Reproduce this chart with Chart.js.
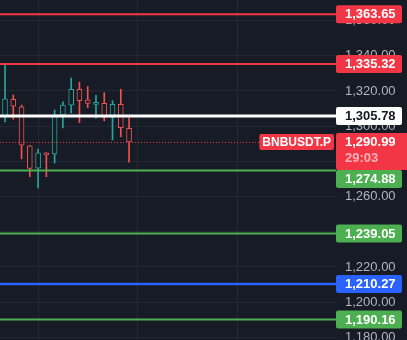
<!DOCTYPE html>
<html>
<head>
<meta charset="utf-8">
<script src="https://cdn.jsdelivr.net/npm/chart.js@4/dist/chart.umd.min.js"></script>
<style>
    html, body { margin: 0; padding: 0; background: #171b26; overflow: hidden; }
    canvas { display: block; }
</style>
</head>
<body>
<canvas id="bnbChart" width="407" height="340"></canvas>
<script>
//
//
// Data
var opens  = [1305.2, 1315.3, 1311.0, 1288.9, 1276.2, 1284.8, 1284.2, 1306.4, 1312.0, 1321.0, 1315.0, 1312.4, 1313.0, 1305.0, 1312.4, 1298.8];
var highs  = [1334.8, 1317.7, 1312.0, 1289.0, 1287.0, 1285.0, 1309.2, 1313.8, 1327.4, 1325.0, 1322.5, 1317.6, 1319.0, 1314.5, 1321.0, 1304.8];
var lows   = [1302.4, 1304.0, 1281.4, 1271.3, 1264.9, 1271.3, 1279.0, 1299.0, 1307.5, 1302.0, 1310.5, 1304.5, 1303.0, 1292.2, 1294.0, 1279.5];
var closes = [1315.5, 1311.4, 1289.2, 1276.0, 1284.8, 1283.6, 1306.4, 1312.0, 1321.0, 1314.5, 1313.0, 1312.7, 1305.0, 1312.4, 1299.2, 1290.99];

var levelPrices = [1363.65, 1335.32, 1305.78, 1274.88, 1239.05, 1210.27, 1190.16];
var levelColors = ['#f23645', '#f23645', '#ffffff', '#4caf50', '#4caf50', '#2962ff', '#4caf50'];
var levelWidths = [2, 2, 3, 2, 2, 2.5, 2];

var symbolName = 'BNBUSDT.P';
var countdown = '29:03';
var lastPrice = closes[closes.length - 1];

var yTickStep = 20;
var xGridIdx = [4, 16, 28];

//
//
// Styles
var BG = '#171b26';
var GRID = '#242833';
var UP = '#26a69a';
var DOWN = '#ef5350';
var RED = '#f23645';
var FONT = '"Liberation Sans", Arial, sans-serif';

function fmt(v) {
    return v.toLocaleString('en-US', { minimumFractionDigits: 2, maximumFractionDigits: 2 });
}

var wickData = [];
var bodyData = [];
var candleColors = [];
for (var i = 0; i < opens.length; i++) {
    wickData.push({ x: i, y: [lows[i], highs[i]] });
    bodyData.push({ x: i, y: [opens[i], closes[i]] });
    candleColors.push(closes[i] >= opens[i] ? UP : DOWN);
}

//
// Background + vertical grid
var backgroundPlugin = {
    id: 'bg',
    beforeDraw: function(chart) {
        var c = chart.ctx;
        c.save();
        c.fillStyle = BG;
        c.fillRect(0, 0, chart.width, chart.height);
        c.restore();
    },
    beforeDatasetsDraw: function(chart) {
        var c = chart.ctx;
        var area = chart.chartArea;
        var x = chart.scales.x;
        c.save();
        c.strokeStyle = GRID;
        c.lineWidth = 1;
        xGridIdx.forEach(function(v) {
            var px = Math.round(x.getPixelForValue(v)) + 0.5;
            c.beginPath();
            c.moveTo(px, area.top);
            c.lineTo(px, area.bottom);
            c.stroke();
        });
        c.restore();
    }
};

//
// Horizontal levels + price line
var levelsPlugin = {
    id: 'levels',
    afterDatasetsDraw: function(chart) {
        var c = chart.ctx;
        var area = chart.chartArea;
        var y = chart.scales.y;
        c.save();
        // last price dotted line
        var py = Math.round(y.getPixelForValue(lastPrice)) + 0.5;
        c.strokeStyle = RED;
        c.lineWidth = 1;
        c.setLineDash([1, 2]);
        c.beginPath();
        c.moveTo(area.left, py);
        c.lineTo(area.right, py);
        c.stroke();
        c.setLineDash([]);
        levelPrices.forEach(function(p, k) {
            var ly = y.getPixelForValue(p);
            c.strokeStyle = levelColors[k];
            c.lineWidth = levelWidths[k];
            c.beginPath();
            c.moveTo(area.left, ly);
            c.lineTo(area.right, ly);
            c.stroke();
        });
        c.restore();
    },
    afterDraw: function(chart) {
        var c = chart.ctx;
        var area = chart.chartArea;
        var y = chart.scales.y;
        var boxH = 18;
        var boxW = 66;
        var textX = area.right + 9;
        c.save();
        c.textBaseline = 'middle';
        c.textAlign = 'left';

        // current price box
        var py = y.getPixelForValue(lastPrice);
        var curTop = py - 9;
        var curBottom = curTop + 37;

        // symbol tag
        c.font = 'bold 12px ' + FONT;
        var sw = c.measureText(symbolName).width;
        c.fillStyle = RED;
        c.beginPath();
        c.roundRect(area.right - 2 - sw - 6, py - 8, sw + 6, 16, 2);
        c.fill();
        c.fillStyle = '#ffffff';
        c.fillText(symbolName, area.right - 2 - sw - 3, py + 0.5);

        // level labels
        c.font = 'bold 13px ' + FONT;
        levelPrices.forEach(function(p, k) {
            var ly = y.getPixelForValue(p);
            var top = ly - boxH / 2;
            if (top < curBottom && top + boxH > curTop) {
                top = p < lastPrice ? curBottom : curTop - boxH;
            }
            c.fillStyle = levelColors[k];
            c.beginPath();
            c.roundRect(area.right, top, boxW, boxH, 2);
            c.fill();
            c.fillStyle = levelColors[k] === '#ffffff' ? '#131722' : '#ffffff';
            c.fillText(fmt(p), textX, top + boxH / 2 + 0.5);
        });

        c.fillStyle = RED;
        c.beginPath();
        c.roundRect(area.right, curTop, chart.width - area.right + 2, curBottom - curTop, 2);
        c.fill();
        c.fillStyle = '#ffffff';
        c.fillText(fmt(lastPrice), textX, py + 0.5);
        c.fillStyle = 'rgba(255,255,255,0.62)';
        c.fillText(countdown, textX, py + 16);
        c.restore();
    }
};

//
// Draw Chart
var ctx = document.getElementById('bnbChart').getContext('2d');
new Chart(ctx, {
    type: 'bar',
    data: {
        datasets: [{
            label: 'bodies',
            data: bodyData,
            backgroundColor: BG,
            borderColor: candleColors,
            borderWidth: 1,
            borderSkipped: false,
            barThickness: 5,
            minBarLength: 2,
            grouped: false,
            order: 0
        }, {
            label: 'wicks',
            data: wickData,
            backgroundColor: candleColors,
            borderWidth: 0,
            barThickness: 1,
            grouped: false,
            order: 1
        }]
    },
    options: {
        responsive: false,
        devicePixelRatio: 1,
        animation: false,
        layout: { padding: 0 },
        plugins: {
            legend: { display: false },
            tooltip: { enabled: false }
        },
        scales: {
            x: {
                type: 'linear',
                min: -0.605,
                max: 40.02,
                offset: false,
                border: { display: false },
                grid: { display: false, drawTicks: false },
                ticks: { display: false }
            },
            y: {
                type: 'linear',
                position: 'right',
                min: 1178.5,
                max: 1371.7,
                border: { display: false },
                grid: { color: GRID, drawTicks: false, lineWidth: 1 },
                ticks: {
                    stepSize: yTickStep,
                    includeBounds: false,
                    padding: 9,
                    color: '#b2b5be',
                    font: { family: FONT, size: 13 },
                    callback: function(v) { return fmt(v); }
                },
                afterFit: function(scale) {
                    scale.width = 71;
                    scale.paddingTop = 0;
                    scale.paddingBottom = 0;
                }
            }
        }
    },
    plugins: [backgroundPlugin, levelsPlugin]
});
</script>
</body>
</html>
